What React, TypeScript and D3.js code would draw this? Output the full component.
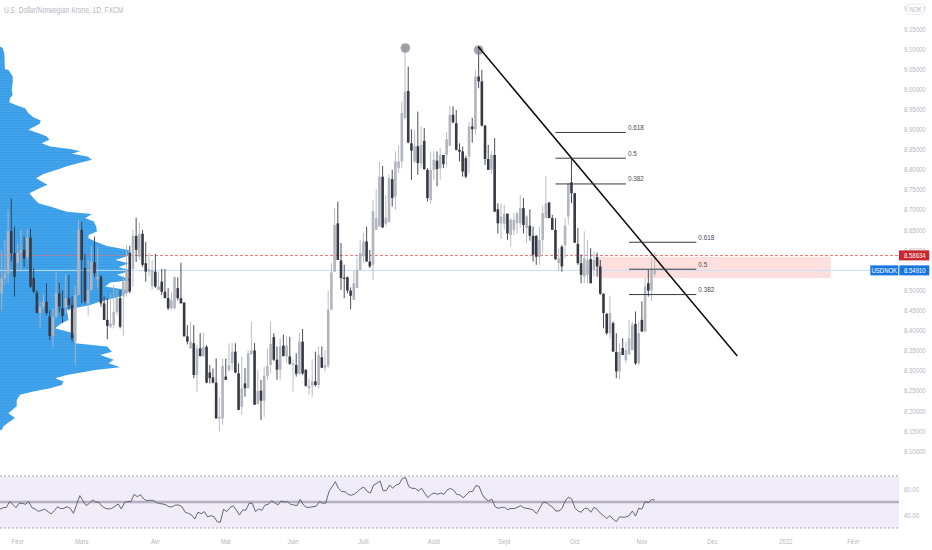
import * as d3 from "d3";

const opens = [
  8.492, 8.530, 8.542, 8.647, 8.592, 8.568, 8.593, 8.600, 8.582, 8.631,
  8.530, 8.494, 8.443, 8.459, 8.471, 8.434, 8.386, 8.434, 8.492, 8.455,
  8.457, 8.480, 8.463, 8.372, 8.488, 8.650, 8.555, 8.467, 8.500, 8.569,
  8.527, 8.533, 8.467, 8.426, 8.409, 8.413, 8.446, 8.480, 8.484, 8.492,
  8.593, 8.552, 8.635, 8.583, 8.640, 8.567, 8.546, 8.510, 8.546, 8.500,
  8.521, 8.496, 8.480, 8.455, 8.455, 8.505, 8.480, 8.469, 8.385, 8.355,
  8.368, 8.289, 8.355, 8.336, 8.359, 8.295, 8.283, 8.270, 8.181, 8.181,
  8.285, 8.301, 8.318, 8.347, 8.293, 8.210, 8.268, 8.256, 8.341, 8.350,
  8.217, 8.250, 8.225, 8.287, 8.314, 8.383, 8.327, 8.302, 8.362, 8.335,
  8.335, 8.314, 8.314, 8.292, 8.372, 8.302, 8.256, 8.262, 8.273, 8.264,
  8.333, 8.307, 8.312, 8.451, 8.546, 8.666, 8.574, 8.531, 8.532, 8.499,
  8.476, 8.505, 8.550, 8.584, 8.621, 8.571, 8.563, 8.650, 8.658, 8.782,
  8.665, 8.670, 8.776, 8.733, 8.803, 8.820, 8.928, 8.995, 8.865, 8.820,
  8.858, 8.815, 8.871, 8.799, 8.724, 8.799, 8.822, 8.803, 8.836, 8.836,
  8.859, 8.936, 8.915, 8.849, 8.845, 8.828, 8.832, 8.907, 8.900, 9.031,
  9.019, 8.909, 8.826, 8.800, 8.836, 8.701, 8.666, 8.665, 8.690, 8.637,
  8.650, 8.666, 8.666, 8.704, 8.654, 8.660, 8.635, 8.635, 8.583, 8.625,
  8.679, 8.718, 8.679, 8.650, 8.567, 8.608, 8.612, 8.683, 8.768, 8.741,
  8.615, 8.567, 8.534, 8.538, 8.577, 8.550, 8.582, 8.559, 8.491, 8.441,
  8.393, 8.418, 8.346, 8.298, 8.356, 8.326, 8.340, 8.351, 8.416, 8.318,
  8.426, 8.397, 8.517, 8.499, 8.540,
];
const highs = [
  8.600, 8.625, 8.700, 8.728, 8.658, 8.616, 8.650, 8.633, 8.652, 8.652,
  8.554, 8.500, 8.471, 8.490, 8.517, 8.450, 8.455, 8.546, 8.518, 8.500,
  8.540, 8.538, 8.484, 8.510, 8.675, 8.670, 8.590, 8.575, 8.610, 8.633,
  8.608, 8.538, 8.484, 8.480, 8.492, 8.513, 8.500, 8.500, 8.535, 8.612,
  8.610, 8.650, 8.680, 8.668, 8.650, 8.620, 8.592, 8.575, 8.590, 8.546,
  8.553, 8.553, 8.505, 8.496, 8.534, 8.532, 8.568, 8.470, 8.413, 8.421,
  8.413, 8.365, 8.393, 8.394, 8.363, 8.314, 8.305, 8.330, 8.235, 8.330,
  8.330, 8.368, 8.368, 8.368, 8.318, 8.335, 8.306, 8.351, 8.422, 8.368,
  8.302, 8.277, 8.310, 8.355, 8.422, 8.393, 8.360, 8.380, 8.389, 8.386,
  8.384, 8.328, 8.343, 8.393, 8.403, 8.303, 8.281, 8.328, 8.347, 8.360,
  8.360, 8.351, 8.499, 8.567, 8.704, 8.720, 8.617, 8.563, 8.534, 8.507,
  8.550, 8.583, 8.625, 8.642, 8.658, 8.600, 8.724, 8.751, 8.820, 8.809,
  8.737, 8.789, 8.799, 8.845, 8.859, 8.969, 9.106, 9.056, 8.900, 8.899,
  8.944, 8.907, 8.903, 8.803, 8.845, 8.845, 8.845, 8.853, 8.836, 8.893,
  8.958, 8.957, 8.948, 8.865, 8.857, 8.834, 8.919, 8.928, 9.048, 9.106,
  9.048, 8.911, 8.861, 8.845, 8.878, 8.716, 8.715, 8.712, 8.690, 8.679,
  8.691, 8.695, 8.737, 8.729, 8.687, 8.701, 8.658, 8.637, 8.658, 8.710,
  8.784, 8.718, 8.687, 8.679, 8.604, 8.612, 8.679, 8.766, 8.828, 8.741,
  8.654, 8.588, 8.646, 8.625, 8.604, 8.596, 8.593, 8.575, 8.492, 8.443,
  8.486, 8.422, 8.393, 8.368, 8.380, 8.372, 8.426, 8.422, 8.447, 8.422,
  8.472, 8.530, 8.550, 8.579, 8.596,
];
const lows = [
  8.450, 8.513, 8.517, 8.571, 8.484, 8.546, 8.550, 8.558, 8.575, 8.505,
  8.492, 8.443, 8.407, 8.450, 8.438, 8.376, 8.357, 8.430, 8.445, 8.418,
  8.442, 8.450, 8.372, 8.314, 8.488, 8.467, 8.467, 8.437, 8.500, 8.533,
  8.505, 8.459, 8.426, 8.378, 8.405, 8.405, 8.438, 8.405, 8.386, 8.484,
  8.492, 8.508, 8.570, 8.575, 8.558, 8.521, 8.535, 8.502, 8.505, 8.500,
  8.488, 8.480, 8.450, 8.450, 8.452, 8.475, 8.467, 8.385, 8.365, 8.355,
  8.281, 8.247, 8.335, 8.335, 8.268, 8.268, 8.268, 8.181, 8.148, 8.165,
  8.277, 8.297, 8.300, 8.293, 8.202, 8.190, 8.235, 8.256, 8.339, 8.215,
  8.215, 8.177, 8.185, 8.277, 8.293, 8.324, 8.277, 8.277, 8.335, 8.318,
  8.314, 8.248, 8.285, 8.289, 8.289, 8.260, 8.240, 8.235, 8.260, 8.256,
  8.306, 8.298, 8.306, 8.451, 8.546, 8.575, 8.500, 8.480, 8.492, 8.452,
  8.476, 8.505, 8.550, 8.567, 8.571, 8.555, 8.525, 8.650, 8.658, 8.654,
  8.660, 8.667, 8.708, 8.700, 8.791, 8.803, 8.924, 8.865, 8.774, 8.816,
  8.787, 8.803, 8.799, 8.720, 8.716, 8.774, 8.758, 8.774, 8.803, 8.807,
  8.859, 8.915, 8.847, 8.820, 8.782, 8.778, 8.791, 8.867, 8.886, 9.002,
  8.907, 8.811, 8.799, 8.790, 8.695, 8.641, 8.627, 8.650, 8.625, 8.608,
  8.637, 8.641, 8.656, 8.641, 8.617, 8.623, 8.571, 8.563, 8.563, 8.592,
  8.679, 8.679, 8.650, 8.575, 8.550, 8.546, 8.579, 8.662, 8.716, 8.617,
  8.563, 8.517, 8.517, 8.517, 8.517, 8.534, 8.534, 8.488, 8.405, 8.389,
  8.380, 8.347, 8.281, 8.278, 8.339, 8.318, 8.340, 8.351, 8.314, 8.314,
  8.397, 8.397, 8.484, 8.472, 8.534,
];
const closes = [
  8.530, 8.542, 8.647, 8.592, 8.533, 8.593, 8.600, 8.579, 8.631, 8.509,
  8.496, 8.443, 8.459, 8.471, 8.443, 8.386, 8.434, 8.492, 8.459, 8.436,
  8.480, 8.463, 8.380, 8.488, 8.650, 8.575, 8.472, 8.500, 8.571, 8.542,
  8.533, 8.467, 8.426, 8.411, 8.417, 8.446, 8.480, 8.409, 8.521, 8.550,
  8.497, 8.635, 8.600, 8.640, 8.563, 8.546, 8.552, 8.550, 8.509, 8.509,
  8.496, 8.480, 8.455, 8.475, 8.532, 8.480, 8.467, 8.385, 8.372, 8.372,
  8.289, 8.355, 8.336, 8.359, 8.270, 8.281, 8.270, 8.181, 8.185, 8.311,
  8.277, 8.313, 8.347, 8.295, 8.202, 8.256, 8.256, 8.343, 8.350, 8.215,
  8.250, 8.225, 8.287, 8.312, 8.366, 8.327, 8.302, 8.360, 8.336, 8.362,
  8.317, 8.318, 8.292, 8.372, 8.293, 8.262, 8.262, 8.273, 8.264, 8.339,
  8.307, 8.314, 8.451, 8.544, 8.662, 8.575, 8.530, 8.528, 8.499, 8.486,
  8.517, 8.550, 8.592, 8.621, 8.571, 8.559, 8.696, 8.679, 8.782, 8.656,
  8.680, 8.778, 8.729, 8.820, 8.820, 8.940, 8.994, 8.867, 8.847, 8.858,
  8.816, 8.861, 8.801, 8.729, 8.799, 8.824, 8.801, 8.836, 8.813, 8.875,
  8.936, 8.917, 8.849, 8.844, 8.795, 8.782, 8.907, 8.900, 9.031, 9.019,
  8.909, 8.826, 8.799, 8.836, 8.695, 8.666, 8.683, 8.690, 8.641, 8.675,
  8.675, 8.691, 8.704, 8.662, 8.683, 8.635, 8.588, 8.583, 8.625, 8.691,
  8.716, 8.679, 8.650, 8.577, 8.579, 8.559, 8.660, 8.766, 8.741, 8.618,
  8.567, 8.538, 8.579, 8.575, 8.517, 8.575, 8.559, 8.491, 8.443, 8.393,
  8.443, 8.347, 8.298, 8.346, 8.339, 8.351, 8.380, 8.414, 8.318, 8.393,
  8.397, 8.509, 8.499, 8.550, 8.549,
];

// volume profile on the left, price level and volume (arbitrary units)
const profilePrices = [
  9.106, 9.102, 9.089, 9.064, 9.049, 9.048, 9.031, 9.015, 8.998, 8.986, 8.977, 8.967, 8.961,
  8.952, 8.940, 8.930, 8.922, 8.913, 8.899, 8.889, 8.882, 8.874, 8.865, 8.857, 8.851, 8.845,
  8.839, 8.832, 8.824, 8.817, 8.809, 8.799, 8.789, 8.778, 8.770, 8.762, 8.754, 8.741, 8.729,
  8.716, 8.708, 8.695, 8.689, 8.679, 8.671, 8.658, 8.646, 8.637, 8.629, 8.621, 8.610, 8.600,
  8.592, 8.584, 8.575, 8.567, 8.557, 8.549, 8.538, 8.525, 8.519, 8.509, 8.499, 8.484, 8.472,
  8.463, 8.451, 8.426, 8.418, 8.405, 8.393, 8.368, 8.360, 8.347, 8.339, 8.327, 8.318, 8.308,
  8.302, 8.289, 8.281, 8.273, 8.264, 8.256, 8.248, 8.240, 8.227, 8.211, 8.194, 8.182, 8.171,
  8.161, 8.152,
];
const profileVolumes = [
  0, 8, 13, 14, 15, 25, 38, 38, 35, 38, 30, 28, 45,
  75, 85, 100, 122, 118, 85, 120, 140, 148, 125, 150, 210, 240,
  215, 262, 275, 240, 205, 170, 130, 108, 125, 142, 120, 88, 100,
  115, 150, 200, 275, 255, 280, 288, 290, 265, 265, 285, 320, 385,
  385, 380, 345, 385, 355, 395, 350, 395, 330, 315, 390, 360, 300,
  270, 200, 205, 185, 165, 220, 225, 320, 335, 300, 340, 325, 360,
  290, 200, 165, 190, 185, 150, 100, 60, 50, 50, 25, 45, 25,
  10, 5,
];

const rsiValues = [
  44.4, 45.6, 45.9, 50.3, 48.2, 45.6, 49, 49, 48.2, 50.3, 45.6, 44.6, 42.8, 43.6, 44.4, 42.6, 40.8,
  43.3, 46.4, 44.9, 45.1, 46.4, 45.1, 41.3, 48.2, 54.9, 50.8, 47.2, 49, 51.6, 50, 49.7, 46.7, 45.1,
  44.6, 45.1, 46.7, 48.5, 44.6, 49.7, 50.3, 50.3, 55.9, 54.1, 55.6, 52.3, 51, 51.3, 51.3, 49.5, 48.7,
  48.5, 47.7, 46.2, 46.4, 47.7, 47.7, 46.4, 42.1, 41.3, 40, 36.9, 42.1, 41, 42.6, 38.5, 39.5, 38.7,
  34.9, 34.4, 44.4, 42.6, 45.6, 47.2, 43.8, 40, 43.8, 43.8, 49, 49, 42.6, 44.6, 43.6, 47.7, 48.2, 51,
  49.5, 47.7, 50.8, 50, 50.3, 48.2, 47.7, 47.2, 52, 47.7, 45.9, 45.9, 46.4, 46.7, 50.3, 49, 49.2, 58,
  61.8, 65.6, 60.5, 58, 58, 55.9, 55.1, 56.2, 58, 60.5, 61.3, 58, 56.9, 63.1, 64.4, 66.2, 58.5, 59,
  63.1, 60.5, 63.1, 63.8, 68.2, 68.7, 61.8, 60.5, 60.5, 58.5, 60.5, 56.7, 53.3, 55.9, 56.9, 55.9,
  56.9, 55.9, 59.2, 60.5, 59.2, 55.9, 55.4, 53.3, 55.4, 58, 58, 62.6, 62, 55.9, 52.3, 50.8, 52.3,
  46.4, 45.1, 45.9, 45.9, 44.1, 45.1, 44.9, 45.9, 47.2, 45.6, 45.1, 44.6, 43.8, 41, 45.1, 49.7, 49.7,
  47.7, 46.2, 43.1, 43.1, 45.1, 50.8, 53.8, 52.3, 45.6, 43.1, 42.1, 45.1, 45.1, 42.1, 45.9, 44.4,
  41.3, 39.5, 37.4, 39.5, 36.7, 34.9, 38.7, 38.2, 38.5, 39.5, 43.1, 39.2, 45.1, 44.6, 50.3, 49.5,
  51.8, 51.6,
];

const priceTicks = [
  9.2, 9.15, 9.1, 9.05, 9.0, 8.95, 8.9, 8.85, 8.8, 8.75, 8.7, 8.65, 8.6, 8.55, 8.5, 8.45, 8.4,
  8.35, 8.3, 8.25, 8.2, 8.15, 8.1,
];
const rsiTicks = [60, 40];
const monthLabels = ["Févr", "Mars", "Avr", "Mai", "Juin", "Juill", "Août", "Sept", "Oct", "Nov", "Déc", "2022", "Févr"];
const monthBars = [5, 25, 48, 70, 91, 113, 135, 157, 179, 200, 222, 245, 266];

const lastPrice = 8.5491;
const redLevel = 8.58634;
const zoneBars = [186, 259];
const zonePrices = [8.583, 8.53];
const trendBars = [148.9, 229.8];
const trendPrices = [9.105, 8.336];
const topBars = [126.1, 149];
const topPrices = [9.102, 9.097];
const fibLabels = ["0.618", "0.5", "0.382"];
const fibUpperBars = [173, 195];
const fibUpperPrices = [8.892, 8.828, 8.764];
const fibLowerBars = [196, 217];
const fibLowerPrices = [8.619, 8.552, 8.489];

const axisColor = "#b4b7bf";
const upColor = "#b2b5be";
const downColor = "#363a45";

// the chart's font is narrower than anything installed, so squeeze it
const Label = ({
  x,
  y,
  size = 8,
  squeeze = 0.75,
  anchor = "start",
  fill = axisColor,
  children,
}: {
  x: number;
  y: number;
  size?: number;
  squeeze?: number;
  anchor?: "start" | "middle";
  fill?: string;
  children: React.ReactNode;
}) => (
  <text
    transform={`translate(${x},${y}) scale(${squeeze},1)`}
    textAnchor={anchor}
    fontSize={size}
    fontFamily="'Liberation Sans', sans-serif"
    fill={fill}
  >
    {children}
  </text>
);

export default function App() {
  const x = d3.scaleLinear().domain([0, 204]).range([1.7, 654.7]);
  const y = d3.scaleLinear().domain([9.15, 8.1]).range([28.7, 451]);
  const rsiY = d3.scaleLinear().domain([70, 30]).range([476, 528]);
  const rsiX = d3.scaleLinear().domain([0, rsiValues.length - 1]).range([0, x(204)]);
  const profileW = d3.scaleLinear().domain([0, 395]).range([0, 132]);

  const profileArea = d3
    .area<number>()
    .y((d) => y(d))
    .x0(0)
    .x1((_, i) => profileW(profileVolumes[i]))(profilePrices);

  const rsiLine = d3
    .line<number>()
    .x((_, i) => rsiX(i))
    .y((d) => rsiY(d))(rsiValues);

  const panelRight = 899;

  return (
    <svg
      width={932}
      height={550}
      viewBox="0 0 932 550"
      style={{ position: "absolute", left: 0, top: 0, display: "block", background: "#fff" }}
    >
      <defs>
        <pattern id="rows" width={4} height={2.67} patternUnits="userSpaceOnUse">
          <rect width={4} height={2.67} fill="#41a3ec" />
          <rect width={4} height={0.7} fill="#3899e3" />
        </pattern>
      </defs>

      <Label x={4} y={13} size={8.6} squeeze={0.77}>
        U.S. Dollar/Norwegian Krone, 1D, FXCM
      </Label>

      {/* volume profile */}
      <path d={profileArea ?? ""} fill="url(#rows)" />

      {/* zone and level lines */}
      <rect
        x={x(zoneBars[0])}
        y={y(zonePrices[0])}
        width={x(zoneBars[1]) - x(zoneBars[0])}
        height={y(zonePrices[1]) - y(zonePrices[0])}
        fill="#fde0dd"
      />
      <line x1={0} x2={panelRight} y1={y(redLevel)} y2={y(redLevel)} stroke="#e57373" strokeDasharray="3 2" />
      <line x1={0} x2={870} y1={y(lastPrice)} y2={y(lastPrice)} stroke="#c5dffa" />

      {/* candles */}
      {opens.map((o, i) => {
        const c = closes[i];
        const color = c >= o ? upColor : downColor;
        const top = y(Math.max(o, c));
        const bot = y(Math.min(o, c));
        return (
          <g key={i}>
            <line x1={x(i)} x2={x(i)} y1={y(highs[i])} y2={y(lows[i])} stroke={color} strokeWidth={0.9} />
            <rect x={x(i) - 1.3} y={top} width={2.6} height={Math.max(bot - top, 1)} fill={color} />
          </g>
        );
      })}

      {/* drawings */}
      {topBars.map((b, i) => (
        <circle key={i} cx={x(b)} cy={y(topPrices[i])} r={4.8} fill="#787b86" fillOpacity={0.7} />
      ))}
      <line
        x1={x(trendBars[0])}
        x2={x(trendBars[1])}
        y1={y(trendPrices[0])}
        y2={y(trendPrices[1])}
        stroke="#0b0b0f"
        strokeWidth={1.5}
      />
      {fibUpperPrices.map((p, i) => (
        <g key={i}>
          <line x1={x(fibUpperBars[0])} x2={x(fibUpperBars[1])} y1={y(p)} y2={y(p)} stroke="#363a45" />
          <Label x={x(fibUpperBars[1]) + 2} y={y(p) - 2.5} squeeze={0.8} fill="#4a4e59">
            {fibLabels[i]}
          </Label>
        </g>
      ))}
      {fibLowerPrices.map((p, i) => (
        <g key={i}>
          <line x1={x(fibLowerBars[0])} x2={x(fibLowerBars[1])} y1={y(p)} y2={y(p)} stroke="#363a45" />
          <Label x={x(fibLowerBars[1]) + 2} y={y(p) - 2.5} squeeze={0.8} fill="#4a4e59">
            {fibLabels[i]}
          </Label>
        </g>
      ))}

      {/* price axis */}
      {priceTicks.map((t) => (
        <Label key={t} x={904} y={y(t) + 2.8}>
          {t.toFixed(5)}
        </Label>
      ))}
      <rect x={907} y={4} width={17} height={10.3} rx={3} fill="#fff" stroke="#e0e3eb" strokeWidth={0.8} />
      <Label x={915.5} y={11.8} size={7.6} anchor="middle">
        NOK
      </Label>

      <rect x={899} y={y(redLevel) - 5} width={30.3} height={10} fill="#c9262e" />
      <Label x={904} y={y(redLevel) + 2.8} fill="#fff">
        {redLevel.toFixed(5)}
      </Label>
      <rect x={870.3} y={y(lastPrice) - 5} width={28} height={10} fill="#1976e0" />
      <Label x={884.3} y={y(lastPrice) + 2.8} anchor="middle" fill="#fff">
        USDNOK
      </Label>
      <rect x={899.3} y={y(lastPrice) - 5} width={30} height={10} fill="#1976e0" />
      <Label x={904} y={y(lastPrice) + 2.8} fill="#fff">
        {lastPrice.toFixed(5)}
      </Label>

      {/* rsi panel */}
      <rect x={0} y={rsiY(70)} width={panelRight} height={rsiY(30) - rsiY(70)} fill="#f0edf9" />
      <line x1={0} x2={panelRight} y1={rsiY(70)} y2={rsiY(70)} stroke="#a8a8b4" strokeDasharray="2 2" />
      <line x1={0} x2={panelRight} y1={rsiY(30)} y2={rsiY(30)} stroke="#a8a8b4" strokeDasharray="2 2" />
      <line x1={0} x2={panelRight} y1={rsiY(50)} y2={rsiY(50)} stroke="#b4b0c2" strokeWidth={2.4} />
      <path d={rsiLine ?? ""} fill="none" stroke="#55585f" strokeWidth={0.9} />
      {rsiTicks.map((t) => (
        <Label key={t} x={904} y={rsiY(t) + 2.8}>
          {t.toFixed(2)}
        </Label>
      ))}

      {/* time axis */}
      {monthLabels.map((m, i) => (
        <Label key={i} x={x(monthBars[i])} y={544} anchor="middle">
          {m}
        </Label>
      ))}
    </svg>
  );
}
